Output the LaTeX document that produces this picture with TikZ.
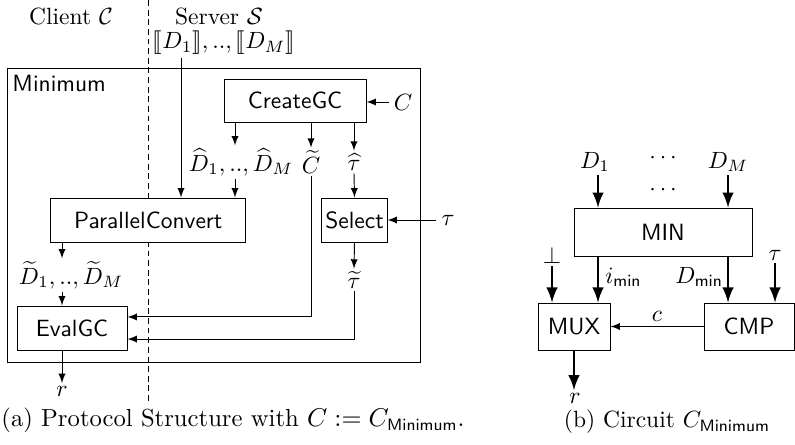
\documentclass[tikz,border=0pt]{standalone}
\usepackage{amsmath}
\usepackage{stmaryrd}
\begin{document}
\begin{tikzpicture}[x=0.4255pt,y=-0.4255pt,
  box/.style={draw, fill=white, font=\sffamily, inner sep=0pt},
  arr/.style={-latex},
  tarr/.style={-latex, line width=1.2pt},
  lbl/.style={inner sep=1pt}]
\useasboundingbox (0,0) rectangle (795,445);
% ---------- (a) ----------
\coordinate (dtop) at (148,0);
\coordinate (dbot) at (148,403);
\draw[dash pattern=on 2.5pt off 1.6pt] (dtop) -- (dbot);
\node[lbl] (client) at (71,16) {Client $\mathcal{C}$};
\node[lbl] (server) at (219,16) {Server $\mathcal{S}$};
\node[lbl] (enc) at (224,43) {$\llbracket D_1\rrbracket,..,\llbracket D_M\rrbracket$};
\node[draw, inner sep=0pt, minimum width=175.7pt, minimum height=125.1pt] (minbox) at (213.5,215) {};
\node[anchor=north west, font=\sffamily, inner xsep=2.3pt, inner ysep=3.2pt] (minlbl) at (minbox.north west) {Minimum};
\node[box, minimum width=60.4pt, minimum height=18.3pt] (cg) at (295,100.5) {CreateGC};
\node[lbl, inner sep=2pt] (Cin) at (403,102) {$C$};
\node[box, minimum width=83.1pt, minimum height=18.7pt] (pc) at (148.3,220) {ParallelConvert};
\node[box, minimum width=27.7pt, minimum height=18.7pt] (sel) at (354.5,220) {Select};
\node[box, minimum width=46.8pt, minimum height=18.7pt] (ev) at (72,328) {EvalGC};
\node[lbl] (dhat) at (241,162) {$\widehat{D}_1,..,\widehat{D}_M$};
\node[lbl] (ct) at (311,162) {$\widetilde{C}$};
\node[lbl] (th) at (354,162) {$\widehat{\tau}$};
\node[lbl, inner sep=2pt] (tau) at (448,220) {$\tau$};
\node[lbl] (tt) at (354,280) {$\widetilde{\tau}$};
\node[lbl] (dt) at (71,275) {$\widetilde{D}_1,..,\widetilde{D}_M$};
\node[lbl] (r1) at (62,391) {$r$};
\coordinate (xa) at (235,0);
\coordinate (xe) at (181,0);
\coordinate (xd) at (62,0);
\draw[arr] (Cin.west) -- (cg.east |- Cin.west);
\draw[arr] (cg.south -| xa) -- (dhat.north -| xa);
\draw[arr] (cg.south -| ct) -- (ct.north);
\draw[arr] (cg.south -| th) -- (th.north);
\draw[arr] (dhat.south -| xa) -- (pc.north -| xa);
\draw[arr] (enc.south -| xe) -- (pc.north -| xe);
\draw[arr] (th.south) -- (sel.north);
\draw[arr] (tau.west) -- (sel.east |- tau.west);
\draw[arr] (sel.south) -- (tt.north);
\draw[arr] (pc.south -| xd) -- (dt.north -| xd);
\draw[arr] (dt.south -| xd) -- (ev.north -| xd);
\draw[arr] (ct.south) |- ([yshift=4.7pt]ev.east);
\draw[arr] (tt.south) |- ([yshift=-4.7pt]ev.east);
\draw[arr] (ev.south -| xd) -- (r1.north);
\node[font=\fontsize{10.5}{12.6}\selectfont] (capa) at (233,420) {(a) Protocol Structure with $C := C_{\mathsf{Minimum}}$.};
% ---------- (b) ----------
\node[lbl] (d1) at (595,162) {$D_1$};
\node[lbl] (dm) at (728,162) {$D_M$};
\node[lbl] (dots1) at (665,158) {$\cdots$};
\node[lbl] (dots2) at (665,190) {$\cdots$};
\node[box, minimum width=75.7pt, minimum height=20.4pt] (min) at (663,232) {MIN};
\node[lbl] (bot) at (552,255) {$\perp$};
\node[lbl] (tau2) at (775,255) {$\tau$};
\node[box, minimum width=30.6pt, minimum height=20pt] (mux) at (574,326.5) {MUX};
\node[box, minimum width=38.3pt, minimum height=20pt] (cmp) at (749,326.5) {CMP};
\node[lbl] (r2) at (575,398) {$r$};
\coordinate (x1) at (598,0);
\coordinate (x2) at (728,0);
\draw[tarr] (d1.south -| x1) -- (min.north -| x1);
\draw[tarr] (dm.south -| x2) -- (min.north -| x2);
\draw[tarr] (bot.south) -- (bot.south |- mux.north);
\draw[tarr] (tau2.south) -- (tau2.south |- cmp.north);
\draw[tarr] (min.south -| x1) -- (mux.north -| x1) node[midway, right, inner xsep=2.5pt, inner ysep=1pt, yshift=1pt] (imin) {$i_{\mathsf{min}}$};
\draw[tarr] (min.south -| x2) -- (cmp.north -| x2) node[midway, left, inner xsep=1.5pt, inner ysep=1pt, yshift=1pt] (dmin) {$D_{\mathsf{min}}$};
\draw[arr] (cmp.west) -- (mux.east) node[midway, above, inner sep=2pt] (clbl) {$c$};
\draw[tarr] (mux.south) -- (mux.south |- r2.north);
\node (capb) at (667,422) {(b) Circuit $C_{\mathsf{Minimum}}$};
\end{tikzpicture}
\end{document}
